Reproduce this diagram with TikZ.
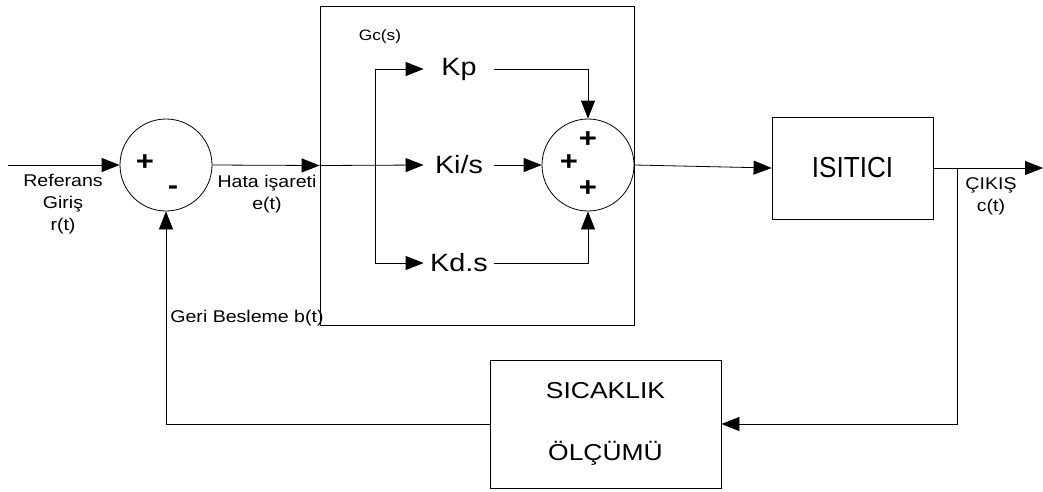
\documentclass[tikz,border=0pt]{standalone}
\usepackage{fontspec}
\setmainfont{Liberation Sans}[FakeStretch=1.15]
\newfontfamily\darfont{Liberation Sans}[FakeStretch=0.9]
\usetikzlibrary{arrows.meta}

\begin{document}
\begin{tikzpicture}[x=1pt, y=-1pt, line width=0.8pt,
    >={Triangle[length=18pt,width=14pt]},
    blok/.style={draw, inner sep=0pt},
    toplam/.style={draw, circle, minimum size=92pt, inner sep=0pt},
    kazanc/.style={minimum width=70pt, inner sep=0pt, font=\fontsize{25}{28}\selectfont},
    etiket/.style={align=center, font=\fontsize{17}{22}\selectfont},
    isaret/.style={font=\fontsize{27}{27}\selectfont\bfseries}]
    \useasboundingbox (0,0) rectangle (1043,491);
    % Hata noktasi
    \node[toplam] (sum1) at (166,165) {};
    \node[isaret] (s1a) at (145,163) {+};
    \node[isaret] (s1b) at (173,190) {-};
    % Kontrolcu Gc(s)
    \node[blok, minimum width=314pt, minimum height=319pt] (gc) at (477,165.5) {};
    \node[font=\fontsize{15}{18}\selectfont] (gcad) at (380,37) {Gc(s)};
    \node[kazanc] (kp) at (459,69) {Kp};
    \node[kazanc] (ki) at (459,165) {Ki/s};
    \node[kazanc] (kd) at (459,263) {Kd.s};
    \coordinate (dal) at (375,165);
    \node[toplam] (sum2) at (588,165) {};
    \node[isaret] (s2a) at (588,140) {+};
    \node[isaret] (s2b) at (569,163) {+};
    \node[isaret] (s2c) at (588,189) {+};
    % Sistem ve olcum
    \node[blok, minimum width=161pt, minimum height=102pt, font=\darfont\fontsize{29}{30}\selectfont] (isi) at (852.5,168) {ISITICI};
    \node[blok, minimum width=231pt, minimum height=128pt, align=center, font=\fontsize{23}{28}\selectfont] (olc) at (605.5,424) {SICAKLIK\\[34pt]ÖLÇÜMÜ};
    \coordinate (giris) at (8,165);
    \coordinate (cikis) at (1043,168);
    \coordinate (dugum) at (957,168);
    % Baglantilar
    \draw[->] (giris) -- (sum1.west);
    \draw[->] (sum1.east) -- (gc.west);
    \draw[->] (gc.west) -- (ki.west);
    \draw[->] (dal) |- (kp.west);
    \draw[->] (dal) |- (kd.west);
    \draw[->] (kp.east) -| (sum2.north);
    \draw[->] (ki.east) -- (sum2.west);
    \draw[->] (kd.east) -| (sum2.south);
    \draw[->] (sum2.east) -- (isi.west);
    \draw[->] (isi.east) -- (cikis);
    \draw[->] (dugum) |- (olc.east);
    \draw[->] (olc.west) -| (sum1.south);
    % Etiketler
    \node[etiket] (ref) at (63,204) {Referans\\Giriş\\r(t)};
    \node[etiket] (hata) at (267,194) {Hata işareti\\e(t)};
    \node[etiket] (cik) at (991,196) {ÇIKIŞ\\c(t)};
    \node[etiket] (geri) at (247,318) {Geri Besleme b(t)};
\end{tikzpicture}
\end{document}
